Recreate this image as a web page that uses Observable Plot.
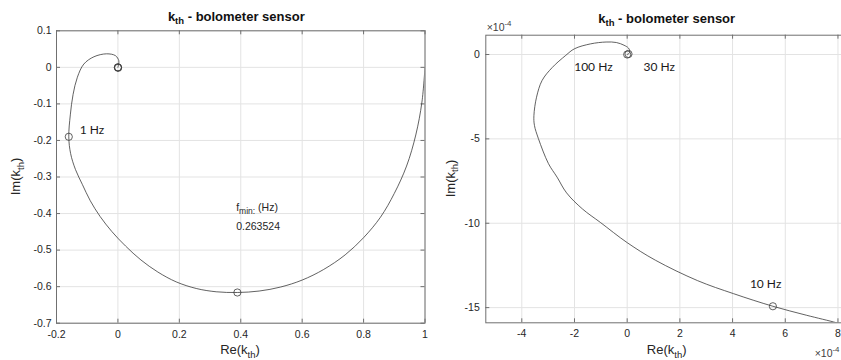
<!DOCTYPE html>
<html>
<head>
<meta charset="utf-8">
<script src="https://cdn.jsdelivr.net/npm/d3@7"></script>
<script src="https://cdn.jsdelivr.net/npm/@observablehq/plot@0.6"></script>
<style>
html,body{margin:0;padding:0;background:#fff;overflow:hidden;}
#root{position:relative;width:841px;height:360px;overflow:hidden;background:#fff;}
.panel{position:absolute;top:0;}
</style>
</head>
<body>
<div id="root"></div>
<script>
// ---------- Left panel data (Re, Im of k_th) ----------
const xTicksL = [-0.2, 0, 0.2, 0.4, 0.6, 0.8, 1];
const yTicksL = [0.1, 0, -0.1, -0.2, -0.3, -0.4, -0.5, -0.6, -0.7];
const reL = [1.000, 0.990, 0.970, 0.940, 0.900, 0.855, 0.800, 0.740, 0.670, 0.600, 0.530, 0.460, 0.389, 0.320, 0.255, 0.190, 0.130, 0.075, 0.025, -0.020, -0.058, -0.090, -0.116, -0.138, -0.154, -0.160, -0.155, -0.146, -0.132, -0.111, -0.078, -0.037, -0.008, 0.003, 0.002, 0.000];
const imL = [0.000, -0.095, -0.185, -0.270, -0.345, -0.410, -0.466, -0.513, -0.553, -0.582, -0.601, -0.612, -0.616, -0.614, -0.605, -0.587, -0.560, -0.527, -0.489, -0.449, -0.408, -0.365, -0.320, -0.280, -0.236, -0.190, -0.130, -0.074, -0.027, 0.009, 0.029, 0.037, 0.032, 0.018, 0.007, 0.000];
const markNameL = ["fmin", "1 Hz", "10 Hz", "30 Hz", "100 Hz"];
const markReL = [0.389, -0.160, 0.00055, 0.00003, 0.0];
const markImL = [-0.616, -0.190, -0.0015, 0.00002, 0.0];
const shownLabelsL = ["1 Hz"];
const fminHz = "0.263524";

// ---------- Right panel data (units of 1e-4) ----------
const xTicksR = [-4, -2, 0, 2, 4, 6, 8];
const yTicksR = [0, -5, -10, -15];
const reR = [8.40, 7.95, 6.80, 5.53, 4.03, 2.67, 1.07, 0.00, -1.01, -1.70, -2.30, -2.66, -2.99, -3.37, -3.52, -3.54, -3.44, -3.23, -2.85, -2.33, -2.00, -1.39, -0.80, -0.41, -0.12, 0.05, 0.10, 0.06, 0.00];
const imR = [-16.12, -15.90, -15.45, -14.92, -14.17, -13.40, -12.19, -11.15, -9.96, -9.15, -8.20, -7.27, -6.46, -4.98, -4.20, -3.62, -2.53, -1.54, -0.78, -0.05, 0.34, 0.63, 0.74, 0.71, 0.55, 0.38, 0.20, 0.05, 0.00];
const markNameR = ["10 Hz", "30 Hz", "100 Hz"];
const markReR = [5.53, 0.05, 0.0];
const markImR = [-14.92, 0.03, 0.0];
const shownLabelsR = ["10 Hz", "30 Hz", "100 Hz"];

const titleText = " - bolometer sensor";

// ---------- styling ----------
const labelOffsets = {"1 Hz": [11, -7], "10 Hz": [-23, -22], "30 Hz": [15, 13], "100 Hz": [-53, 13]};
const FONT = "'Liberation Sans', Arial, Helvetica, sans-serif";
const INK = "#262626";
const LINE = "#3a3a3a";
const AXIS = "#707070";
const GRID = "#e3e3e3";

function makePanel(cfg) {
  const {width, height, ml, mr, mt, mb, xDomain, yDomain, xTicks, yTicks, re, im, mRe, mIm, mName, shown, xPad, yPad} = cfg;
  const innerW = width - ml - mr, innerH = height - mt - mb;
  const curve = re.map((r, i) => ({re: r, im: im[i]}));
  const marks = mRe.map((r, i) => ({re: r, im: mIm[i], name: mName[i]}));
  const labelMarks = shown.map(name => Plot.text(marks.filter(d => d.name === name), {
    x: "re", y: "im", text: "name", textAnchor: "start",
    dx: labelOffsets[name][0], dy: labelOffsets[name][1],
    fontFamily: "Lato, 'Open Sans', sans-serif", fontSize: 12, fill: "#1a1a1a"
  }));
  const plot = Plot.plot({
    width, height,
    marginLeft: ml, marginRight: mr, marginTop: mt, marginBottom: mb,
    x: {domain: xDomain},
    y: {domain: yDomain},
    style: {fontFamily: FONT, fontSize: "10.5px", color: INK, background: "transparent", overflow: "visible"},
    marks: [
      Plot.gridX(xTicks, {stroke: GRID, strokeOpacity: 1}),
      Plot.gridY(yTicks, {stroke: GRID, strokeOpacity: 1}),
      Plot.tickX(xTicks, {x: d => d, insetTop: innerH - 4, stroke: AXIS}),
      Plot.tickX(xTicks, {x: d => d, insetBottom: innerH - 4, stroke: AXIS}),
      Plot.tickY(yTicks, {y: d => d, insetRight: innerW - 4, stroke: AXIS}),
      Plot.tickY(yTicks, {y: d => d, insetLeft: innerW - 4, stroke: AXIS}),
      Plot.axisX(xTicks, {tickSize: 0, tickPadding: xPad, tickFormat: d => String(d), label: null, fill: INK}),
      Plot.axisY(yTicks, {tickSize: 0, tickPadding: yPad, tickFormat: d => String(d), label: null, fill: INK}),
      Plot.line(curve, {x: "re", y: "im", stroke: LINE, strokeWidth: 0.8, curve: "catmull-rom", clip: true}),
      Plot.dot(marks, {x: "re", y: "im", r: 3.6, stroke: LINE, strokeWidth: 0.8, fill: "none"}),
      ...labelMarks,
      Plot.frame({stroke: AXIS, strokeWidth: 1})
    ]
  });
  plot.setAttribute("class", "panel");
  plot.style.left = cfg.left + "px";
  return plot;
}

function addTexts(svg, t) {
  const s = d3.select(svg);
  // title
  const tt = s.append("text").attr("x", t.titleX).attr("y", t.titleY)
    .attr("text-anchor", "middle").attr("font-family", FONT).attr("font-weight", "bold")
    .attr("font-size", 13).attr("fill", "#111");
  tt.append("tspan").text("k");
  tt.append("tspan").attr("font-size", 9.5).attr("dy", 3.5).text("th");
  tt.append("tspan").attr("dy", -3.5).text(titleText);
  // x label
  const xl = s.append("text").attr("x", t.xlX).attr("y", t.xlY)
    .attr("text-anchor", "middle").attr("font-family", FONT).attr("font-size", 13).attr("fill", INK);
  xl.append("tspan").text("Re(k");
  xl.append("tspan").attr("font-size", 9.5).attr("dy", 3.5).text("th");
  xl.append("tspan").attr("dy", -3.5).text(")");
  // y label
  const yl = s.append("text").attr("transform", `translate(${t.ylX},${t.ylY}) rotate(-90)`)
    .attr("text-anchor", "middle").attr("font-family", FONT).attr("font-size", 13).attr("fill", INK);
  yl.append("tspan").text("Im(k");
  yl.append("tspan").attr("font-size", 9.5).attr("dy", 3.5).text("th");
  yl.append("tspan").attr("dy", -3.5).text(")");
}

function addExponent(svg, x, y, size, anchor) {
  const e = d3.select(svg).append("text").attr("x", x).attr("y", y)
    .attr("text-anchor", anchor)
    .attr("font-family", FONT).attr("font-size", size).attr("fill", "#404040");
  e.append("tspan").text("\u00d710");
  e.append("tspan").attr("font-size", size * 0.75).attr("dy", -5).text("-4");
}

const root = document.getElementById("root");

// Left panel
const left = makePanel({
  left: 0, width: 430, height: 360, ml: 56, mr: 5.5, mt: 30.3, mb: 37.3,
  xDomain: [-0.2, 1], yDomain: [-0.7, 0.1], xTicks: xTicksL, yTicks: yTicksL,
  re: reL, im: imL, mRe: markReL, mIm: markImL, mName: markNameL, shown: shownLabelsL,
  xPad: 7, yPad: 5
});
root.appendChild(left);
addTexts(left, {titleX: 236.3, titleY: 20.7, xlX: 240, xlY: 354, ylX: 20, ylY: 176.5});
// f_min annotation placed relative to the f_min marker through the plot's scales
{
  const sx = left.scale("x"), sy = left.scale("y");
  const px = sx.apply(markReL[0]) - 0.7, py = sy.apply(markImL[0]);
  const g = d3.select(left).append("g").attr("font-family", FONT).attr("fill", INK)
    .attr("text-anchor", "start");
  const t1 = g.append("text").attr("x", px).attr("y", py - 81).attr("font-size", 10.5);
  t1.append("tspan").text("f");
  t1.append("tspan").attr("font-size", 8.5).attr("dy", 3.5).text("min:");
  t1.append("tspan").attr("dy", -3.5).text(" (Hz)");
  g.append("text").attr("x", px).attr("y", py - 61.5).attr("font-size", 10.5).text(fminHz);
}

// Right panel (extends past the picture's right edge)
const right = makePanel({
  left: 430, width: 418, height: 360, ml: 55.3, mr: 0, mt: 34.7, mb: 37.7,
  xDomain: [-5.366, 8.40], yDomain: [-15.90, 1.144], xTicks: xTicksR, yTicks: yTicksR,
  re: reR, im: imR, mRe: markReR, mIm: markImR, mName: markNameR, shown: shownLabelsR,
  xPad: 7, yPad: 6
});
root.appendChild(right);
addTexts(right, {titleX: 236.7, titleY: 22.7, xlX: 236.7, xlY: 354, ylX: 24.5, ylY: 178.5});
addExponent(right, 56.7, 31, 10.5, "start");
addExponent(right, 409.5, 357, 10.5, "end");
</script>
</body>
</html>
